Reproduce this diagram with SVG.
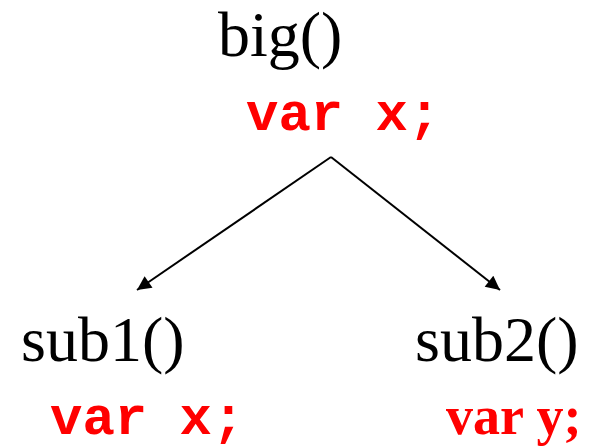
<svg xmlns="http://www.w3.org/2000/svg" width="594" height="448" viewBox="0 0 594 448">
<style>
.fn{font-family:"Liberation Serif","Times New Roman",serif;font-size:64px;fill:#000}
.code{font-family:"Courier New","Liberation Mono",monospace;font-weight:bold;font-size:54px;fill:#ff0000}
.codes{font-family:"Liberation Serif","Times New Roman",serif;font-weight:bold;font-size:54px;fill:#ff0000}
.edge{stroke:#000;stroke-width:2;fill:none}
</style>
<defs>
<marker id="arr" viewBox="0 0 10 10" refX="10" refY="5" markerWidth="9" markerHeight="7" orient="auto" markerUnits="strokeWidth">
<path d="M0,0 L10,5 L0,10 z" fill="#000"/>
</marker>
</defs>
<rect width="594" height="448" fill="#fff"/>
<g id="connectors">
<line class="edge" x1="331" y1="157" x2="137" y2="290" marker-end="url(#arr)"/>
<line class="edge" x1="331" y1="157" x2="500" y2="290" marker-end="url(#arr)"/>
</g>
<g id="big">
<text class="fn" x="218" y="56">big()</text>
<text class="code" x="246" y="130">var x;</text>
</g>
<g id="sub1">
<text class="fn" x="21" y="361">sub1()</text>
<text class="code" x="50" y="434">var x;</text>
</g>
<g id="sub2">
<text class="fn" x="415" y="361">sub2()</text>
<text class="codes" x="446" y="434">var y;</text>
</g>
</svg>
